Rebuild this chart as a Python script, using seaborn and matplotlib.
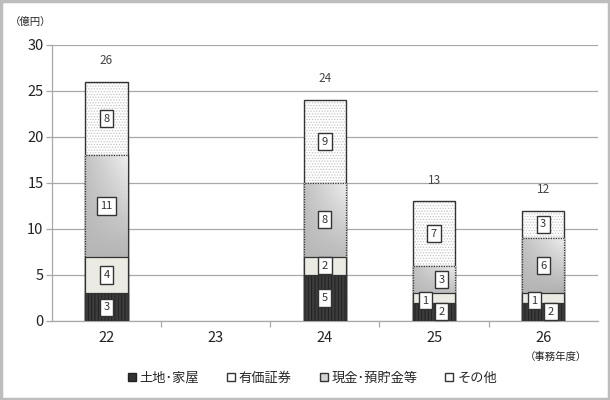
import matplotlib
matplotlib.use("Agg")
import matplotlib.pyplot as plt
import seaborn as sns
import numpy as np
import pandas as pd
from matplotlib.lines import Line2D

years = ["22", "23", "24", "25", "26"]
land = [3, 0, 5, 2, 2]
securities = [4, 0, 2, 1, 1]
cash = [11, 0, 8, 3, 6]
other = [8, 0, 9, 7, 3]
totals = [26, None, 24, 13, 12]
series_names = ["土地･家屋", "有価証券", "現金･預貯金等", "その他"]
yticks = [0, 5, 10, 15, 20, 25, 30]

sns.set_theme(style="white")
plt.rcParams['font.family'] = ['Noto Sans CJK JP', 'DejaVu Sans']
plt.rcParams['hatch.linewidth'] = 0.6

fig = plt.figure(figsize=(6.1, 4.0), dpi=100)
ax = fig.add_axes([0.085, 0.1975, 0.895, 0.69])

df = pd.DataFrame({"year": years, "land": land, "sec": securities,
                   "cash": cash, "other": other})
df["c1"] = df["land"]
df["c2"] = df["c1"] + df["sec"]
df["c3"] = df["c2"] + df["cash"]
df["c4"] = df["c3"] + df["other"]

W = 0.39
edge = "#333333"


def layer(**kw):
    n0 = len(ax.patches)
    sns.barplot(data=df, x="year", ax=ax, width=W, **kw)
    new = ax.patches[n0:]
    for p in new:
        if p.get_height() == 0:
            p.set_visible(False)
    return new


layer(y="c4", color="white", saturation=1, edgecolor="#c4c4c4", linewidth=0,
      hatch="......", zorder=2)
layer(y="c4", fill=False, edgecolor=edge, linewidth=1.0, zorder=2.1)
cash_patches = layer(y="c3", color="#b2b2b2", saturation=1, edgecolor=edge,
                     linewidth=0.9, zorder=3)
layer(y="c2", color="#ebebe4", saturation=1, edgecolor=edge, linewidth=0.9, zorder=4)
layer(y="c1", color="#3c3c3c", saturation=1, edgecolor="#1e1e1e", linewidth=0,
      hatch="|||||", zorder=5)
layer(y="c1", fill=False, edgecolor=edge, linewidth=0.9, zorder=5.1)

# gradient fill for the cash segments
gx = np.linspace(0, 1, 50)
gy = np.linspace(0, 1, 100)
X, Y = np.meshgrid(gx, gy)
G = (0.68 * (1 - X) * (1 - Y) + 0.56 * X * (1 - Y) + 0.76 * (1 - X) * Y + 0.93 * X * Y)
ax.set_ylim(0, 30)
ax.set_xlim(-0.5, 4.5)
for p in cash_patches:
    if not p.get_visible():
        continue
    x0, y0 = p.get_x(), p.get_y()
    w, h = p.get_width(), p.get_height()
    im = ax.imshow(G, cmap="gray", vmin=0, vmax=1, origin="lower",
                   extent=(x0, x0 + w, y0, y0 + h), aspect="auto",
                   zorder=3.05, interpolation="bilinear")
    im.set_clip_path(p)
    p2 = plt.Rectangle((x0, y0), w, h, fill=False, edgecolor=edge, linewidth=0.9,
                       linestyle=(0, (1, 1)), zorder=3.1)
    ax.add_patch(p2)
ax.set_ylim(0, 30)
ax.set_xlim(-0.5, 4.5)

ax.set_yticks(yticks)
ax.set_yticklabels([str(t) for t in yticks], fontsize=10.5, color="#222222")
ax.yaxis.grid(True, color="#a8a8a8", linewidth=0.9)
ax.set_axisbelow(True)
ax.set_xlabel("")
ax.set_ylabel("")
ax.tick_params(axis="x", length=0, labelsize=10.5, labelcolor="#222222", pad=7)
ax.tick_params(axis="y", left=True, length=4, color="#a8a8a8", width=0.9, pad=2)
ax.set_xticks([0.5, 1.5, 2.5, 3.5], minor=True)
ax.tick_params(axis="x", which="minor", bottom=True, length=4, color="#a8a8a8", width=0.9)
for s in ["top", "right"]:
    ax.spines[s].set_visible(False)
for s in ["left", "bottom"]:
    ax.spines[s].set_color("#a8a8a8")
    ax.spines[s].set_linewidth(0.9)

box = dict(boxstyle="square,pad=0.32", fc="white", ec="#333333", lw=1.0)
segs = [land, securities, cash, other]
for i in range(len(years)):
    base = 0
    for k, vals in enumerate(segs):
        v = vals[i]
        if v > 0:
            xo = 0
            yc = base + v / 2
            if v < 2.5 and k == 0 and securities[i] <= 1:
                xo = 0.07
            if k == 1 and v <= 1:
                xo = -0.08
                yc = base + 0.2
            if k == 2 and v <= 3 and securities[i] <= 1:
                xo = 0.07
            ax.text(i + xo, yc, str(v), ha="center", va="center", fontsize=8,
                    color="#333333", bbox=box, zorder=10)
        base += v
    if totals[i] is not None:
        ax.text(i, totals[i] + 1.6, str(totals[i]), ha="center", va="bottom",
                fontsize=8.5, color="#444444")

fig.text(0.05, 0.945, "（億円）", ha="center", va="center", fontsize=7.5, color="#222222")
fig.text(0.912, 0.108, "（事務年度）", ha="center", va="center", fontsize=7.5, color="#222222")

handles = [
    Line2D([], [], marker="s", linestyle="", markersize=6, markerfacecolor="#333333", markeredgecolor="#222222"),
    Line2D([], [], marker="s", linestyle="", markersize=6, markerfacecolor="white", markeredgecolor="#333333"),
    Line2D([], [], marker="s", linestyle="", markersize=6, markerfacecolor="#d4d4d4", markeredgecolor="#333333"),
    Line2D([], [], marker="s", linestyle="", markersize=6, markerfacecolor="white", markeredgecolor="#333333"),
]
fig.legend(handles, series_names, loc="center", bbox_to_anchor=(0.51, 0.055), ncol=4,
           frameon=False, fontsize=9.5, handletextpad=0.1, columnspacing=1.9, handlelength=1.0)

fig.patches.append(plt.Rectangle((0.001, 0.002), 0.997, 0.996, transform=fig.transFigure,
                                 fill=False, edgecolor="#bdbdbd", linewidth=2.5))
fig.savefig("out.png", dpi=100, facecolor="white")
